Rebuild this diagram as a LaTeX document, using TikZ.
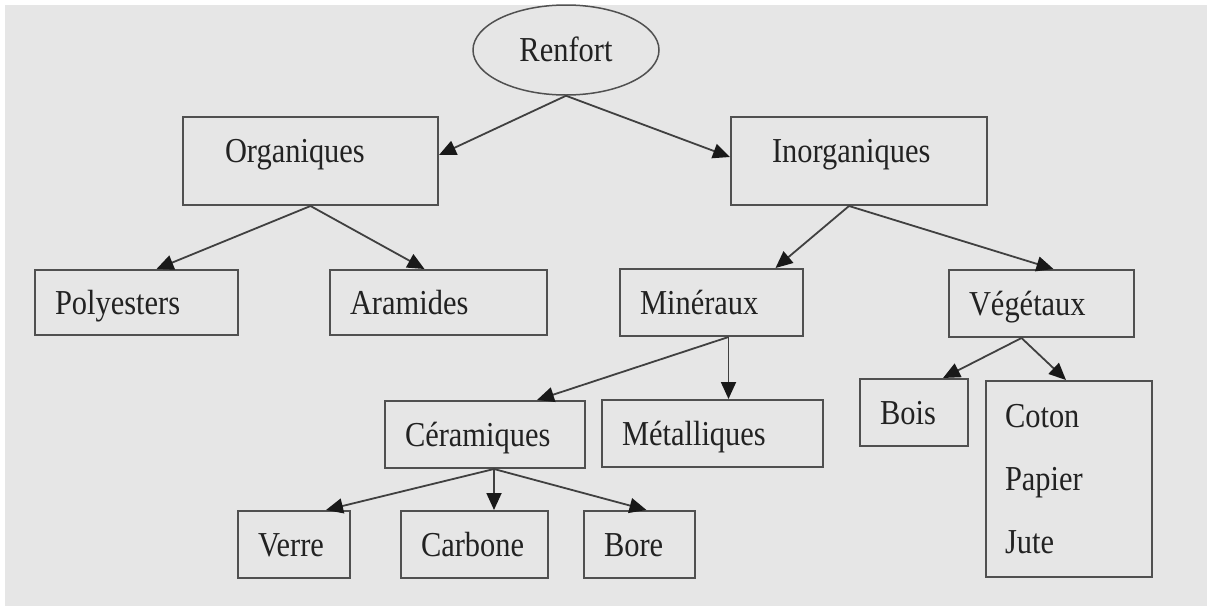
\documentclass[tikz,border=0pt]{standalone}
\usepackage{fontspec}
\setmainfont{Liberation Serif}[FakeStretch=0.87]
\usepackage{tikz}
\usetikzlibrary{arrows.meta,shapes.geometric}

\definecolor{fondgris}{HTML}{E6E6E6}
\definecolor{traitgris}{HTML}{505050}
\definecolor{textenoir}{HTML}{222222}

\begin{document}
\begin{tikzpicture}[x=1pt,y=-1pt,
        box/.style={draw=traitgris, line width=2pt, rectangle, align=left,
            inner xsep=20pt, inner ysep=0pt, text height=23pt, text depth=0pt,
            minimum height=67pt, text=textenoir,
            font=\fontsize{35}{63}\selectfont},
        fleche/.style={-{Triangle[length=17pt,width=15pt,color=black!90]},
            line width=1.8pt, draw=traitgris!80!black}]
    \useasboundingbox (0,0) rectangle (1210,614);
    \fill[white] (0,0) rectangle (1210,614);
    \fill[fondgris] (5,5) rectangle (1207,606);

    % racine
    \node[ellipse, draw=traitgris, line width=1.5pt, minimum width=186pt,
        minimum height=90pt, inner sep=0pt, text height=23pt, text depth=0pt,
        text=textenoir, font=\fontsize{35}{63}\selectfont] (renf) at (566,50) {Renfort};

    % niveau 1
    \node[box, inner xsep=42pt, text width=171pt, minimum height=88pt, text depth=21pt]
        (org) at (310.5,161) {Organiques};
    \node[box, inner xsep=41pt, text width=174pt, minimum height=88pt, text depth=21pt]
        (inorg) at (859,161) {Inorganiques};

    % niveau 2
    \node[box, text width=163pt, minimum height=65pt] (poly) at (136.5,302.5) {Polyesters};
    \node[box, text width=177pt, minimum height=65pt] (aram) at (438.5,302.5) {Aramides};
    \node[box, text width=143pt] (min) at (711.5,302.5) {Minéraux};
    \node[box, text width=145pt] (veg) at (1041.5,303.5) {Végétaux};

    % niveau 3
    \node[box, text width=160pt] (cer) at (485,434.5) {Céramiques};
    \node[box, text width=181pt] (met) at (712.5,433.5) {Métalliques};
    \node[box, text width=68pt] (bois) at (914,412.5) {Bois};
    \node[box, inner xsep=19pt, text width=128pt, minimum height=196pt, text depth=126pt]
        (coton) at (1069,479) {Coton\\Papier\\Jute};

    % niveau 4
    \node[box, text width=72pt] (verre) at (294,544.5) {Verre};
    \node[box, text width=107pt] (carb) at (474.5,544.5) {Carbone};
    \node[box, text width=71pt] (bore) at (639.5,544.5) {Bore};

    \draw[fleche] (renf.south) -- ([yshift=6pt]org.east);
    \draw[fleche] (renf.south) -- ([yshift=4pt]inorg.west);
    \draw[fleche] (org.south) -- ([xshift=20pt]poly.north);
    \draw[fleche] (org.south) -- ([xshift=-14pt]aram.north);
    \draw[fleche] ([xshift=-10pt]inorg.south) -- ([xshift=64pt]min.north);
    \draw[fleche] ([xshift=-10pt]inorg.south) -- ([xshift=12pt]veg.north);
    \draw[fleche] ([xshift=17pt]min.south) -- ([xshift=52pt]cer.north);
    \draw[fleche] ([xshift=17pt]min.south) -- ([xshift=16pt]met.north);
    \draw[fleche] ([xshift=-20pt]veg.south) -- ([xshift=29pt]bois.north);
    \draw[fleche] ([xshift=-20pt]veg.south) -- ([xshift=-3pt]coton.north);
    \draw[fleche] ([xshift=9pt]cer.south) -- ([xshift=32pt]verre.north);
    \draw[fleche] ([xshift=9pt]cer.south) -- ([xshift=19.5pt]carb.north);
    \draw[fleche] ([xshift=9pt]cer.south) -- ([xshift=7pt]bore.north);
\end{tikzpicture}
\end{document}
